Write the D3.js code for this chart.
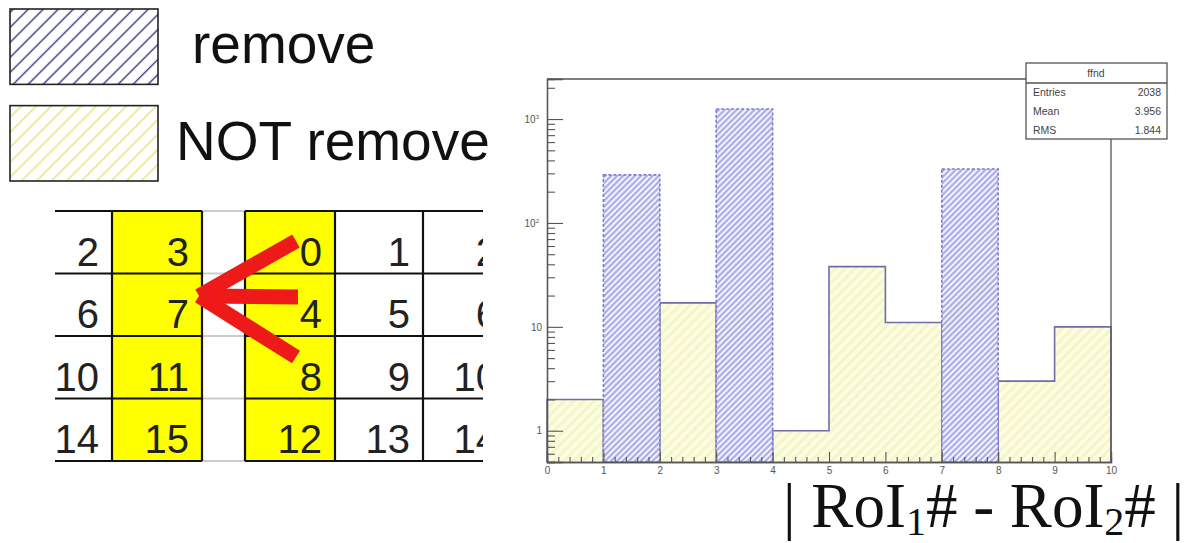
<!DOCTYPE html>
<html><head><meta charset="utf-8">
<script src="https://cdn.jsdelivr.net/npm/d3@7"></script>
<style>body{margin:0;background:#fff}svg{display:block}</style>
</head><body><svg id="c" width="1190" height="543"></svg>
<script>
// ---- data ----
const binEdges = [0,1,2,3,4,5,6,7,8,9,10];
const removeCounts    = [0, 290, 0, 1250, 0, 0, 0, 331, 0, 0];
const notRemoveCounts = [2, 0, 17, 0, 1, 38, 11, 0, 3, 10];
const xTickValues = [0,1,2,3,4,5,6,7,8,9,10];
const yTickValues = [1,10,100,1000];
const statsTitle = "ffnd";
const statsLabels = ["Entries","Mean","RMS"];
const statsValues = ["2038","3.956","1.844"];
const legendLabels = ["remove","NOT remove"];
const tableLeftCols  = [[2,6,10,14],[3,7,11,15]];
const tableRightCols = [[0,4,8,12],[1,5,9,13],[2,6,10,14]];
const leftYellow  = [false,true];
const rightYellow = [true,false,false];

const svg = d3.select("#c");
svg.append("rect").attr("width",1190).attr("height",543).attr("fill","#fff");
const defs = svg.append("defs");
function hatch(id, spacing, bg, stroke, sw){
  const p = defs.append("pattern").attr("id",id).attr("patternUnits","userSpaceOnUse")
    .attr("width",spacing).attr("height",spacing).attr("patternTransform","rotate(45)");
  p.append("rect").attr("width",spacing).attr("height",spacing).attr("fill",bg);
  p.append("line").attr("x1",spacing/2).attr("x2",spacing/2).attr("y1",0).attr("y2",spacing)
    .attr("stroke",stroke).attr("stroke-width",sw);
}
hatch("hBlue", 4.2, "#f6f6ff", "#a8a8e8", 2.1);
hatch("hYel", 7, "#fcfce2", "#f4f4c2", 2.4);
hatch("lBlue", 10.6, "#fff", "#2e2e80", 1.4);
hatch("lYel", 10.6, "#fff", "#e2e270", 1.4);

// ---- legend ----
const legY = d3.scaleBand().domain(legendLabels).range([9,181]).paddingInner(0.22);
const leg = svg.append("g");
leg.selectAll("rect").data(legendLabels).join("rect")
  .attr("x",10).attr("y",d=>legY(d)).attr("width",148).attr("height",legY.bandwidth())
  .attr("fill",(d,i)=>i===0?"url(#lBlue)":"url(#lYel)").attr("stroke","#222").attr("stroke-width",1.6);
leg.selectAll("text").data(legendLabels).join("text")
  .attr("x",(d,i)=>i===0?192:176).attr("y",d=>legY(d)+legY.bandwidth()-21)
  .attr("font-family","Liberation Sans, Arial, sans-serif").attr("font-size",55).attr("fill","#111")
  .text(d=>d);

// ---- table illustration ----
const rowY = d3.scaleBand().domain([0,1,2,3]).range([211,461]);
const leftEdges = [55,112,202];
const rightEdges = [245,335,423,511];
const tbl = svg.append("g");
defs.append("clipPath").attr("id","tclip").append("rect").attr("x",53).attr("y",200).attr("width",430).attr("height",270);
const tg = tbl.append("g").attr("clip-path","url(#tclip)");
function drawGroup(cols, edges, yellow){
  cols.forEach((col,ci)=>{
    const x0 = edges[ci], x1 = edges[ci+1];
    if(yellow[ci]) tg.append("rect").attr("x",x0).attr("y",rowY(0)).attr("width",x1-x0).attr("height",rowY.range()[1]-rowY(0)).attr("fill","#ffff00");
    tg.selectAll(null).data(col).join("text")
      .attr("x",x1-13).attr("y",(d,i)=>rowY(i)+rowY.bandwidth()-8)
      .attr("text-anchor","end").attr("font-family","Liberation Sans, Arial, sans-serif")
      .attr("font-size",40).attr("fill","#222").text(d=>d);
  });
}
drawGroup(tableLeftCols, leftEdges, leftYellow);
drawGroup(tableRightCols, rightEdges, rightYellow);
rowY.domain().concat([4]).forEach(i=>{
  const yy = i<4?rowY(i):rowY.range()[1];
  tg.append("line").attr("x1",202).attr("x2",245).attr("y1",yy).attr("y2",yy).attr("stroke","#ccc").attr("stroke-width",2);
  tg.append("line").attr("x1",55).attr("x2",202).attr("y1",yy).attr("y2",yy).attr("stroke","#111").attr("stroke-width",2.2);
  tg.append("line").attr("x1",245).attr("x2",511).attr("y1",yy).attr("y2",yy).attr("stroke","#111").attr("stroke-width",2.2);
});
[112,202,245,335,423].forEach(xx=>{
  tg.append("line").attr("x1",xx).attr("x2",xx).attr("y1",rowY(0)).attr("y2",rowY.range()[1]).attr("stroke","#111").attr("stroke-width",2.2);
});
const arrowStarts = [[296,241],[298,297],[296,357]];
const arrowTip = [199,296];
tg.selectAll(".arr").data(arrowStarts).join("line")
  .attr("x1",d=>d[0]).attr("y1",d=>d[1]).attr("x2",arrowTip[0]).attr("y2",arrowTip[1])
  .attr("stroke","#ee1a1a").attr("stroke-width",15);

// ---- histogram ----
const x = d3.scaleLinear().domain([0,10]).range([547,1111]);
const y = d3.scaleLog().domain([0.5,2430]).range([462,79]);
const yv = v => v>0 ? y(v) : y.range()[0];
const bins = d3.range(10).map(i=>({x0:binEdges[i],x1:binEdges[i+1],r:removeCounts[i],n:notRemoveCounts[i]}));
const plot = svg.append("g");
const stepPts = [];
bins.forEach(b=>{stepPts.push([b.x0,b.n]);stepPts.push([b.x1,b.n]);});
const area = d3.area().x(d=>x(d[0])).y0(y.range()[0]).y1(d=>yv(d[1]));
plot.append("path").datum(stepPts).attr("d",area).attr("fill","url(#hYel)");
const line = d3.line().x(d=>x(d[0])).y(d=>yv(d[1]));
plot.append("path").datum([[0,0.5]].concat(stepPts).concat([[10,0.5]])).attr("d",line)
  .attr("fill","none").attr("stroke","#6e6ea4").attr("stroke-width",1.6);
plot.selectAll(".rb").data(bins.filter(b=>b.r>0)).join("rect")
  .attr("x",d=>x(d.x0)).attr("y",d=>y(d.r)).attr("width",d=>x(d.x1)-x(d.x0)).attr("height",d=>y.range()[0]-y(d.r))
  .attr("fill","url(#hBlue)").attr("stroke","#7c7cd0").attr("stroke-width",1.6).attr("stroke-dasharray","3,2");

svg.append("path").attr("d",`M${x(0)},${y.range()[1]}H1026M1111,139V${y.range()[0]}`).attr("fill","none").attr("stroke","#555").attr("stroke-width",1.3);

const xMinor = d3.range(0,10.001,0.2).filter(v=>Math.abs(v-Math.round(v))>1e-6);
svg.append("g").attr("transform",`translate(0,${y.range()[0]})`)
  .call(d3.axisBottom(x).tickValues(xTickValues).tickSize(-10).tickPadding(5).tickFormat(d3.format("d")));
svg.append("g").attr("transform",`translate(0,${y.range()[0]})`)
  .call(d3.axisBottom(x).tickValues(xMinor).tickSize(-5).tickFormat(""));
const yMinor = [];
[0.1,1,10,100,1000].forEach(d=>{for(let k=2;k<=9;k++){const v=d*k; if(v>=0.5&&v<=2430) yMinor.push(v);}});
const ya = svg.append("g").attr("transform",`translate(${x(0)},0)`)
  .call(d3.axisLeft(y).tickValues(yTickValues).tickSize(-16).tickPadding(5).tickFormat(d=>d>=100?"10":String(d)));
svg.append("g").attr("transform",`translate(${x(0)},0)`)
  .call(d3.axisLeft(y).tickValues(yMinor).tickSize(-8).tickFormat(""));
svg.selectAll(".domain").attr("stroke","#555").attr("stroke-width",1.3);
svg.selectAll(".tick line").attr("stroke","#555").attr("stroke-width",1.1);
svg.selectAll(".tick text").attr("font-family","Liberation Sans, Arial, sans-serif").attr("font-size",10).attr("fill","#555");
ya.selectAll(".tick text").each(function(d){
  if(d>=100){
    const t=d3.select(this);
    t.attr("dx",-3);
    t.append("tspan").attr("dy",-4).attr("font-size",6).text(Math.round(Math.log10(d)));
  }
});

const sb = svg.append("g");
sb.append("rect").attr("x",1026).attr("y",63).attr("width",141).attr("height",76).attr("fill","#fff").attr("stroke","#555").attr("stroke-width",1.3);
sb.append("line").attr("x1",1026).attr("x2",1167).attr("y1",83).attr("y2",83).attr("stroke","#555").attr("stroke-width",1.3);
sb.append("text").attr("x",1096).attr("y",77).attr("text-anchor","middle").attr("font-family","Liberation Sans, Arial, sans-serif").attr("font-size",10.5).attr("fill","#444").text(statsTitle);
const sy = d3.scalePoint().domain(statsLabels).range([96,134]);
sb.selectAll(".sl").data(statsLabels).join("text").attr("x",1033).attr("y",d=>sy(d))
  .attr("font-family","Liberation Sans, Arial, sans-serif").attr("font-size",10.5).attr("fill","#444").text(d=>d);
sb.selectAll(".sv").data(statsValues).join("text").attr("x",1161).attr("y",(d,i)=>sy(statsLabels[i]))
  .attr("text-anchor","end").attr("font-family","Liberation Sans, Arial, sans-serif").attr("font-size",10.5).attr("fill","#444").text(d=>d);

// x title
const xt = svg.append("text").attr("x",783).attr("y",527)
  .attr("font-family","Liberation Serif, Times New Roman, serif").attr("font-size",63).attr("fill","#111");
xt.append("tspan").text("| RoI");
xt.append("tspan").attr("font-size",40).attr("dy",8).text("1");
xt.append("tspan").attr("dy",-8).text("# - RoI");
xt.append("tspan").attr("font-size",40).attr("dy",8).text("2");
xt.append("tspan").attr("dy",-8).text("# |");
</script></body></html>
